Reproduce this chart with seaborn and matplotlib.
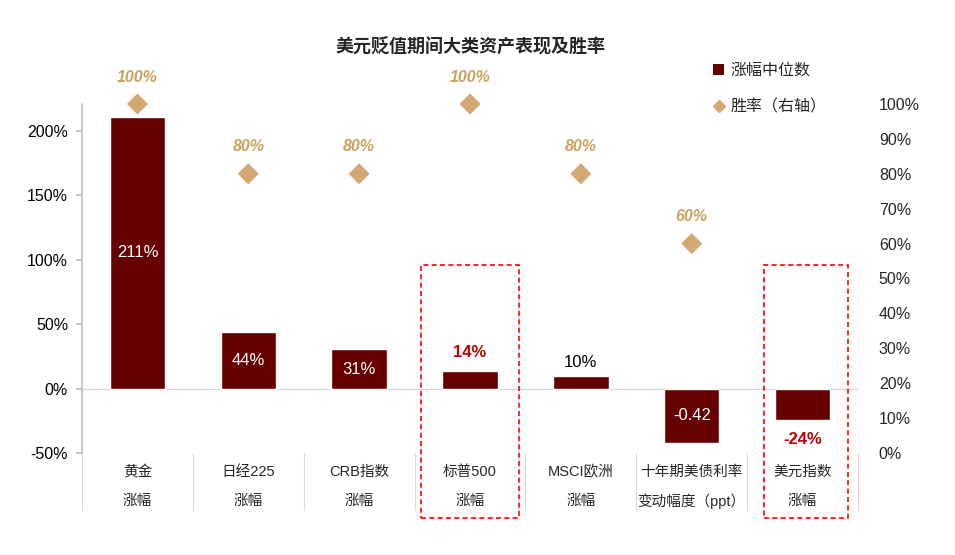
import numpy as np
import pandas as pd
import matplotlib
matplotlib.use('Agg')
import matplotlib.pyplot as plt
import seaborn as sns
from matplotlib.lines import Line2D
from matplotlib.patches import Patch, Rectangle

# Data
line1 = ['黄金', '日经225', 'CRB指数', '标普500', 'MSCI欧洲', '十年期美债利率', '美元指数']
line2 = ['涨幅', '涨幅', '涨幅', '涨幅', '涨幅', '变动幅度（ppt）', '涨幅']
median_chg = [211, 44, 31, 14, 10, -42, -24]
value_labels = ['211%', '44%', '31%', '14%', '10%', '-0.42', '-24%']
win_rate = [100, 80, 80, 100, 80, 60, np.nan]

BAR = '#660000'
TAN = '#D4A872'
TAN_TXT = '#C9A25E'
RED = '#C00000'

sns.set_theme(style='white')
plt.rcParams['font.family'] = ['Liberation Sans', 'Noto Sans CJK SC', 'DejaVu Sans']

df = pd.DataFrame({'cat': line1, 'chg': median_chg, 'win': win_rate})
df['pos'] = np.arange(len(df))

fig = plt.figure(figsize=(9.55, 5.55), dpi=100)
ax = fig.add_axes([82 / 955, 1 - 453 / 555, (858 - 82) / 955, (453 - 104) / 555])

sns.barplot(data=df, x='cat', y='chg', color=BAR, saturation=1, width=0.5, ax=ax, zorder=2)
ax.set_xlim(-0.5, 6.5)
ax.set_ylim(-50, 220.9)
ax.set_yticks(np.arange(-50, 201, 50))
ax.set_yticklabels([f'{v}%' for v in range(-50, 201, 50)], fontsize=11.5, color='black')
ax.set_xticks([])
ax.set_xlabel('')
ax.set_ylabel('')
for s in ['top', 'right', 'bottom']:
    ax.spines[s].set_visible(False)
ax.spines['left'].set_color('#bfbfbf')
ax.tick_params(axis='y', left=True, length=4, color='#bfbfbf', pad=6)
ax.axhline(0, color='#d9d9d9', lw=1, zorder=1)

# separators under the axis between category labels
trans = ax.get_xaxis_transform()
for xb in np.arange(-0.5, 7, 1):
    ax.plot([xb, xb], [0, -0.163], transform=trans, color='#d9d9d9', lw=0.8, clip_on=False)

for i in range(len(line1)):
    ax.annotate(line1[i], xy=(i, 0), xycoords=trans, xytext=(0, -19), textcoords='offset pixels',
                ha='center', va='center', fontsize=10.5)
    ax.annotate(line2[i], xy=(i, 0), xycoords=trans, xytext=(0, -48), textcoords='offset pixels',
                ha='center', va='center', fontsize=10.5)

# value labels on bars
label_y = [105.5, 22, 15, 28, 20, -21, -39.5]
label_col = ['white', 'white', 'white', RED, 'black', 'white', RED]
label_w = ['normal', 'normal', 'normal', 'bold', 'normal', 'normal', 'bold']
for i in range(len(value_labels)):
    ax.text(i, label_y[i], value_labels[i], ha='center', va='center', fontsize=12,
            color=label_col[i], fontweight=label_w[i], zorder=4)

# right axis with win rate
ax2 = ax.twinx()
ax2.set_position(ax.get_position())
sns.scatterplot(data=df, x='pos', y='win', marker='D', s=115, color=TAN, edgecolor='none', ax=ax2,
                zorder=3, legend=False)
for coll in ax2.collections:
    coll.set_clip_on(False)
ax2.set_ylim(0, 100)
ax2.set_xlim(-0.5, 6.5)
ax2.set_yticks(np.arange(0, 101, 10))
ax2.set_yticklabels([f'{v}%' for v in range(0, 101, 10)], fontsize=11.5)
ax2.set_ylabel('')
ax2.set_xlabel('')
for s in ax2.spines.values():
    s.set_visible(False)
ax2.tick_params(axis='y', right=False, length=0, pad=15)
for i, w in enumerate(win_rate):
    if not np.isnan(w):
        ax2.annotate(f'{int(w)}%', xy=(i, w), xytext=(0, 27), textcoords='offset pixels',
                     ha='center', va='center', fontsize=11.5, color=TAN_TXT,
                     fontweight='bold', fontstyle='italic', annotation_clip=False)

# dashed highlight boxes
for x0, x1 in [(2.557, 3.44), (5.65, 6.41)]:
    ax.add_patch(Rectangle((x0, -100.8), x1 - x0, 96 + 100.8, fill=False, ls=(0, (3, 2)),
                           ec='#FF0000', lw=1.2, clip_on=False, zorder=5))

handles = [Patch(facecolor=BAR, edgecolor='none', label='涨幅中位数'),
           Line2D([], [], marker='D', ls='none', color=TAN, markersize=6, label='胜率（右轴）')]
fig.legend(handles=handles, loc='upper left', bbox_to_anchor=(705 / 955, 1 - 55 / 555),
           frameon=False, fontsize=11.5, handlelength=0.7, handleheight=0.7, handletextpad=0.4,
           labelspacing=1.35, borderpad=0)

fig.text(470 / 955, 1 - 47 / 555, '美元贬值期间大类资产表现及胜率', ha='center', va='center',
         fontsize=13, fontweight='bold')

fig.savefig('out.png', dpi=100)
